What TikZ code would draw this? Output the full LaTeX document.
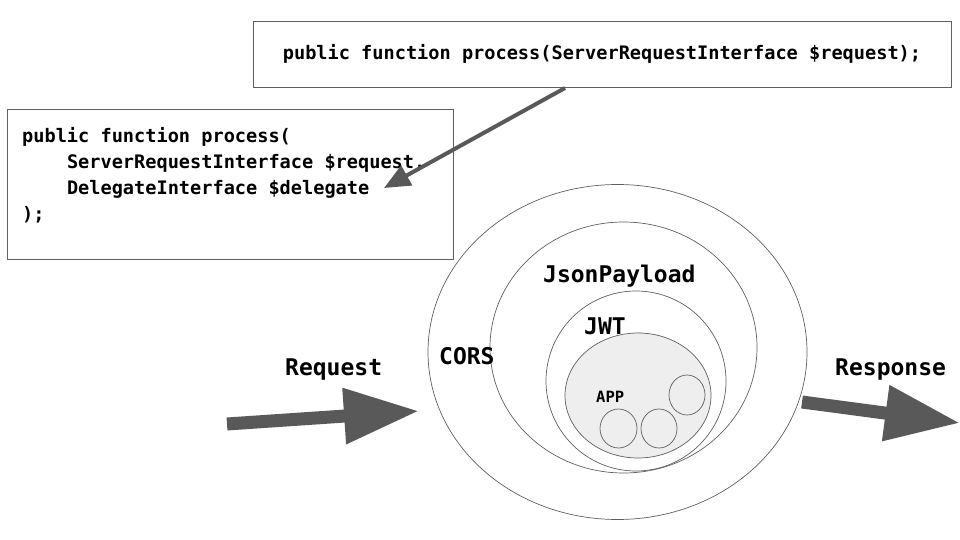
\documentclass[tikz,border=0pt]{standalone}
\usepackage{fontspec}
\setmonofont{DejaVu Sans Mono}
\usepackage{tikz}
\usetikzlibrary{arrows.meta,shapes.geometric}
\definecolor{arrowgray}{HTML}{595959}
\definecolor{linegray}{HTML}{5F5F5F}
\definecolor{appfill}{HTML}{EEEEEE}
\tikzset{
  codebox/.style={draw=linegray, line width=0.8pt, inner sep=0pt},
  codetext/.style={inner sep=0pt, font=\ttfamily\bfseries\fontsize{18.6}{26}\selectfont},
  layer/.style={ellipse, draw=linegray, line width=0.7pt, inner sep=0pt},
  layername/.style={anchor=base west, inner sep=0pt, font=\ttfamily\bfseries\fontsize{23}{26}\selectfont},
  flow/.style={arrowgray, line width=13pt, -{Triangle[length=75pt,width=53pt]}},
}

\begin{document}
\begin{tikzpicture}[x=1pt,y=-1pt]
\useasboundingbox (0,0) rectangle (960,540);
\node[codebox, minimum width=698pt, minimum height=66pt, codetext] (psr7) at (602,54)
  {public function process(ServerRequestInterface \$request);};
\node[codebox, minimum width=446pt, minimum height=150pt, anchor=north west] (psr15) at (7,109) {};
\node[codetext, anchor=north west, align=left] (psr15code) at (22,127)
  {public function process(\\
  \hspace*{44.8pt}ServerRequestInterface \$request,\\
  \hspace*{44.8pt}DelegateInterface \$delegate\\
  );};
\coordinate (from) at (565,88);
\coordinate (to) at (384,188);
\draw[arrowgray, line width=4pt, -{Triangle[length=26pt,width=22pt]}] (from) -- (to);

\node[layer, minimum width=379pt, minimum height=335pt] (cors) at (617.5,352) {};
\node[layer, minimum width=267pt, minimum height=251pt] (json) at (623.5,347.5) {};
\node[layer, minimum width=180pt, minimum height=180pt] (jwt) at (636,381) {};
\node[layer, fill=appfill, minimum width=146pt, minimum height=125pt] (app) at (638,395.5) {};
\node[layer, minimum width=37pt, minimum height=39pt] (svc1) at (618.5,428.5) {};
\node[layer, minimum width=36pt, minimum height=39pt] (svc2) at (659,428.5) {};
\node[layer, minimum width=36pt, minimum height=40pt] (svc3) at (687,395) {};

\node[layername] (corsname) at (439,364) {CORS};
\node[layername] (jsonname) at (543,282) {JsonPayload};
\node[layername] (jwtname) at (584,334) {JWT};
\node[layername, font=\ttfamily\bfseries\fontsize{15.5}{18}\selectfont] (appname) at (596,402) {APP};
\node[layername] (reqname) at (285,375) {Request};
\node[layername] (resname) at (835,375) {Response};

\coordinate (reqstart) at (227,424);
\coordinate (reqend) at (419,411);
\coordinate (resstart) at (802,402);
\coordinate (resend) at (960,423);
\draw[flow] (reqstart) -- (reqend);
\draw[flow] (resstart) -- (resend);
\end{tikzpicture}
\end{document}
